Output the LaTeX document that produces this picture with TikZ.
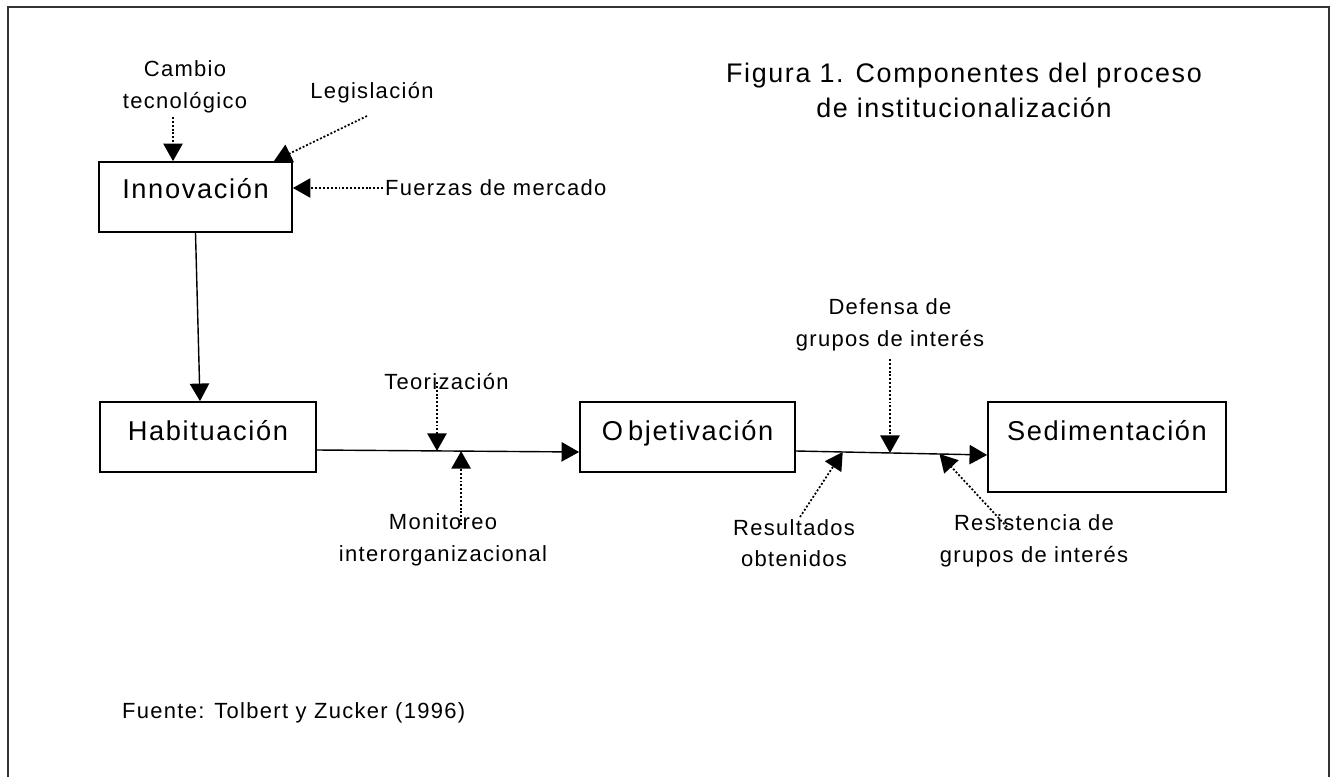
\documentclass[tikz,border=0pt]{standalone}
\usepackage{fontspec}
\setmainfont{Liberation Sans}[LetterSpace=6]
\usepackage{tikz}
\usetikzlibrary{arrows.meta, calc}

\begin{document}
\begin{tikzpicture}[
    font=\fontsize{12.5}{18}\selectfont,
    >={Triangle[length=10pt, width=11pt]},
    box/.style={draw, line width=1pt, inner sep=0pt, anchor=base, font=\fontsize{15.5}{18}\selectfont},
    lbl/.style={inner sep=1pt, align=center},
    dotarrow/.style={->, line width=1pt, dash pattern=on 1.1pt off 1.1pt},
    solidarrow/.style={->, line width=0.8pt}
]

\useasboundingbox (0,0) rectangle (26.62,15.52);
\draw[line width=1pt, black!80] (0.16,-0.2) -- (0.16,15.38) -- (26.58,15.38) -- (26.58,-0.2);

% the four stages
\node[box, minimum width=3.86cm, text height=0.74cm, text depth=0.66cm] (inno)  at (3.91, 11.54) {Innovación};
\node[box, minimum width=4.32cm, text height=0.76cm, text depth=0.64cm] (habit) at (4.16, 6.72) {Habituación};
\node[box, minimum width=4.30cm, text height=0.76cm, text depth=0.64cm] (objet) at (13.75, 6.72) {O\kern3pt bjetivación};
\node[box, minimum width=4.76cm, text height=0.76cm, text depth=1.04cm] (sedim) at (22.14, 6.72) {Sedimentación};

% labels
\node[lbl] (cambio)  at (3.70, 13.78) {Cambio\\tecnológico};
\node[lbl] (legis)   at (7.44, 13.66) {Legislación};
\node[lbl, anchor=west] (fuerzas) at (7.66, 11.76) {Fuerzas de mercado};
\node[lbl] (teor)    at (8.93, 7.88) {Teorización};
\node[lbl] (monit)   at (8.86, 4.72) {Monitoreo\\interorganizacional};
\node[lbl] (defensa) at (17.80, 9.02) {Defensa de\\grupos de interés};
\node[lbl] (result)  at (15.88, 4.66) {Resultados\\obtenidos};
\node[lbl] (resist)  at (20.68, 4.70) {Resistencia de\\grupos de interés};

\node[lbl, font=\fontsize{15.3}{20}\selectfont] (title) at (19.28, 13.72)
    {Figura 1. Componentes del proceso\\de institucionalización};
\node[lbl, anchor=west] (fuente) at (2.40, 1.26)
    {Fuente: Tolbert y Zucker (1996)};

% main flow
\draw[solidarrow] (inno.south) -- ([xshift=-0.16cm]habit.north);
\draw[solidarrow] ([yshift=-0.26cm]habit.east) -- ([yshift=-0.30cm]objet.west)
    coordinate[pos=0.458] (teo) coordinate[pos=0.55] (mon);
\draw[solidarrow] ([yshift=-0.28cm]objet.east) -- ([yshift=-0.16cm]sedim.west)
    coordinate[pos=0.245] (res) coordinate[pos=0.492] (def) coordinate[pos=0.751] (rsi);

% influences
\coordinate (ctail) at ($(cambio.center)+(-0.24,-0.60)$);
\draw[dotarrow] (ctail) -- (ctail |- inno.north);
\draw[dotarrow] ($(legis.center)+(-0.10,-0.46)$) -- ([xshift=-0.38cm]inno.north east);
\draw[dotarrow] (fuerzas.west) -- (fuerzas.west -| inno.east);

\draw[dotarrow] (teo |- teor.center) -- (teo);
\draw[dotarrow] ($(mon |- monit.center)+(0,0.30)$) -- (mon);

\draw[dotarrow] ($(def |- defensa.center)+(0,-0.68)$) -- (def);
\draw[dotarrow] ($(result.center)+(0.12,0.52)$) -- (res);
\draw[dotarrow] ($(resist.center)+(-0.54,0.28)$) -- (rsi);

\end{tikzpicture}
\end{document}
